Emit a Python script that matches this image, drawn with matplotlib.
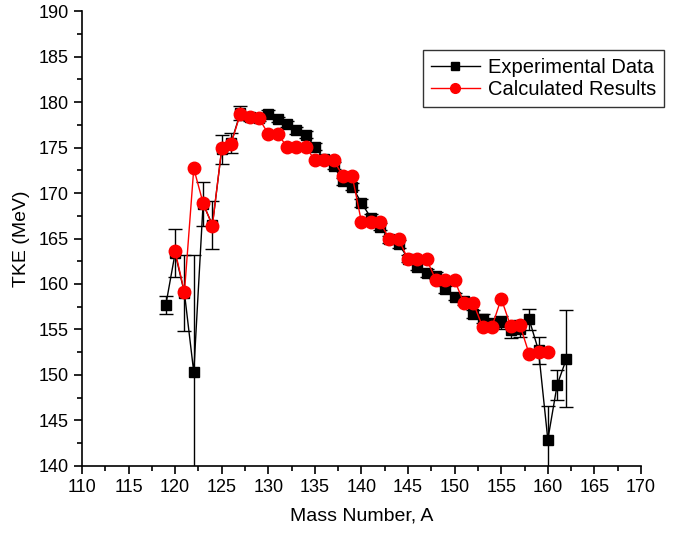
import numpy as np
import matplotlib
matplotlib.use("Agg")
import matplotlib.pyplot as plt
from matplotlib.ticker import MultipleLocator
from matplotlib.lines import Line2D

plt.rcParams['font.family'] = ['Liberation Sans', 'DejaVu Sans']

# experimental TKE with errors
exp_a = np.arange(119, 163)
exp_tke = [157.7, 163.4, 159.0, 150.3, 168.8, 166.5, 174.8, 175.5, 178.8, 178.3,
           178.2, 178.7, 178.1, 177.6, 176.9, 176.4, 175.1, 173.7, 173.0, 171.3,
           170.7, 168.9, 167.3, 166.3, 164.9, 164.4, 162.8, 161.9, 161.2, 160.9,
           159.4, 158.6, 158.1, 156.7, 156.2, 155.7, 155.8, 154.9, 155.1, 156.1,
           152.7, 142.9, 148.9, 151.8]
exp_err = [1.0, 2.6, 4.2, 12.9, 2.4, 2.6, 1.6, 1.1, 0.8, 0.4,
           0.3, 0.4, 0.3, 0.3, 0.4, 0.4, 0.4, 0.4, 0.4, 0.4,
           0.4, 0.4, 0.4, 0.4, 0.4, 0.4, 0.4, 0.4, 0.4, 0.4,
           0.4, 0.4, 0.4, 0.4, 0.5, 0.5, 0.7, 0.8, 0.9, 1.2,
           1.5, 3.7, 1.7, 5.3]

# calculated TKE
calc_a = np.arange(120, 161)
calc_tke = [163.6, 159.1, 172.7, 168.9, 166.4, 174.9, 175.4, 178.7, 178.3, 178.2,
            176.5, 176.5, 175.1, 175.1, 175.1, 173.6, 173.6, 173.6, 171.9, 171.9,
            166.8, 166.8, 166.8, 164.9, 164.9, 162.7, 162.7, 162.7, 160.4, 160.4,
            160.4, 157.9, 157.9, 155.3, 155.3, 158.4, 155.4, 155.5, 152.3, 152.5,
            152.5]

fig = plt.figure(figsize=(6.83, 5.35), dpi=100)
ax = fig.add_axes([0.120, 0.129, 0.8185, 0.8504])

ax.errorbar(exp_a, exp_tke, yerr=exp_err, color='black', lw=1, marker='s',
            markersize=7.5, capsize=5, elinewidth=1, capthick=1, zorder=2)
ax.plot(calc_a, calc_tke, color='red', lw=1, marker='o', markersize=9, zorder=3)

ax.set_xlim(110, 170)
ax.set_ylim(140, 190)
ax.xaxis.set_major_locator(MultipleLocator(5))
ax.xaxis.set_minor_locator(MultipleLocator(2.5))
ax.yaxis.set_major_locator(MultipleLocator(5))
ax.yaxis.set_minor_locator(MultipleLocator(2.5))
ax.tick_params(which='major', direction='out', length=6, width=1.2, labelsize=13)
ax.tick_params(which='minor', direction='out', length=3.5, width=1.2)
for s in ['top', 'right']:
    ax.spines[s].set_visible(False)
for s in ['left', 'bottom']:
    ax.spines[s].set_linewidth(1.2)

ax.set_xlabel('Mass Number, A', fontsize=14, labelpad=8)
ax.set_ylabel('TKE (MeV)', fontsize=14, labelpad=6)

handles = [Line2D([], [], color='black', lw=1, marker='s', markersize=6),
           Line2D([], [], color='red', lw=1, marker='o', markersize=7)]
leg = ax.legend(handles, ['Experimental Data', 'Calculated Results'],
                loc='upper right', bbox_to_anchor=(0.972, 0.906),
                bbox_transform=fig.transFigure, fontsize=14.5, frameon=True,
                fancybox=False, edgecolor='black',
                handlelength=2.4, borderpad=0.4, labelspacing=0.15,
                handletextpad=0.4, borderaxespad=0)
leg.get_frame().set_linewidth(1.0)

fig.savefig('out.png', dpi=100)
